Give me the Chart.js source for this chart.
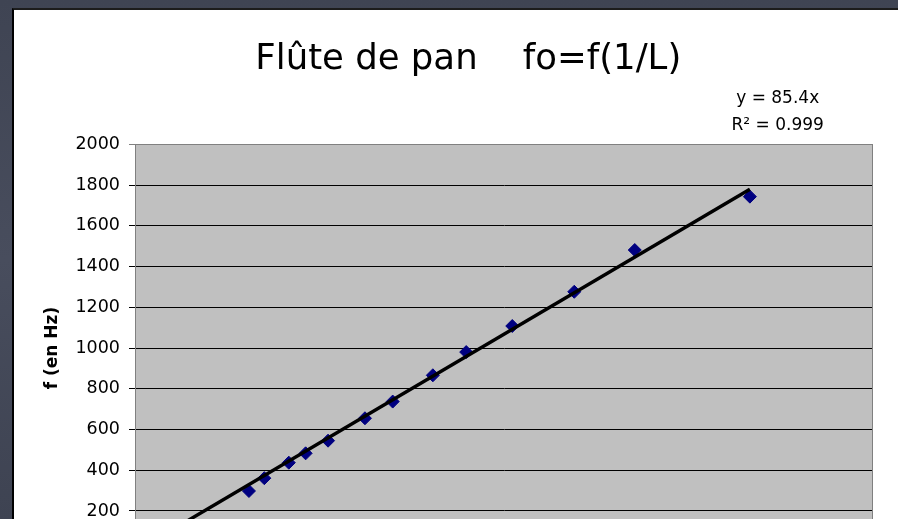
<!DOCTYPE html>
<html><head><meta charset="utf-8">
<script src="https://cdn.jsdelivr.net/npm/chart.js@4.4.1/dist/chart.umd.min.js"></script>
<style>
html,body{margin:0;padding:0;width:898px;height:519px;overflow:hidden;background:#444a59;}
body{background:linear-gradient(180deg,#3f4453 0%,#484d5d 50%,#3e4352 100%);}
#panel{position:absolute;left:12px;top:8px;width:900px;height:640px;background:#fff;border-left:2px solid #000;border-top:2px solid #1c1c1c;}
#wrap{position:absolute;left:0;top:0;width:884px;height:620px;}
</style></head><body>
<div id="panel"><div id="wrap"><canvas id="c"></canvas></div></div>
<script>
// Data
const invL = [3.86, 4.38, 5.21, 5.78, 6.54, 7.79, 8.73, 10.09, 11.22, 12.78, 14.88, 16.93, 20.83];
const freq = [298, 361, 437, 483, 545, 655, 737, 866, 980, 1108, 1276, 1481, 1743];
const trendX = [0, 20.83];
const trendY = [0, 1779];
const yTicks = [0, 200, 400, 600, 800, 1000, 1200, 1400, 1600, 1800, 2000];
const xTicks = [0, 5, 10, 15, 20, 25];
const titleText = 'Flûte de pan    fo=f(1/L)';
const eqLines = ['y = 85.4x', 'R² = 0.999'];
const yTitle = 'f (en Hz)';

const FONT = '"DejaVu Sans"';

const decor = {
  id: 'decor',
  beforeDraw(chart) {
    const {ctx, chartArea: a} = chart;
    ctx.save();
    ctx.fillStyle = '#c0c0c0';
    ctx.fillRect(a.left, a.top, a.right - a.left, a.bottom - a.top);
    ctx.restore();
  },
  beforeDatasetsDraw(chart) {
    const {ctx, chartArea: a} = chart;
    ctx.save();
    ctx.strokeStyle = '#808080';
    ctx.lineWidth = 1;
    ctx.strokeRect(Math.round(a.left) + 0.5, Math.round(a.top) + 0.5, Math.round(a.right - a.left) - 1, Math.round(a.bottom - a.top));
    ctx.restore();
  },
  afterDraw(chart) {
    const {ctx} = chart;
    ctx.save();
    ctx.fillStyle = '#000';
    ctx.textAlign = 'center';
    ctx.textBaseline = 'alphabetic';
    ctx.font = '35.5px ' + FONT;
    ctx.fillText(titleText, 454.3, 59.3);
    ctx.font = '17px ' + FONT;
    ctx.fillText(eqLines[0], 763.7, 92.7);
    ctx.fillText(eqLines[1], 763.7, 120);
    ctx.restore();
  }
};

new Chart(document.getElementById('c'), {
  type: 'scatter',
  data: {
    datasets: [
      {
        label: 'trend',
        data: trendX.map((x, i) => ({x, y: trendY[i]})),
        showLine: true,
        borderColor: '#000',
        borderWidth: 3.5,
        pointRadius: 0,
        fill: false
      },
      {
        label: 'fo',
        data: invL.map((x, i) => ({x, y: freq[i]})),
        pointStyle: 'rectRot',
        pointRadius: 6.5,
        backgroundColor: '#000080',
        borderColor: '#000080',
        borderWidth: 1
      }
    ]
  },
  options: {
    responsive: true,
    maintainAspectRatio: false,
    animation: false,
    events: [],
    layout: {padding: {top: 134.3, right: 25, bottom: 18.3, left: 0}},
    plugins: {legend: {display: false}, tooltip: {enabled: false}, title: {display: false}},
    scales: {
      x: {
        type: 'linear', min: 0, max: 25,
        afterBuildTicks(s) { s.ticks = xTicks.map(v => ({value: v})); },
        ticks: {color: '#000', font: {family: FONT, size: 17.5}, padding: 6, callback: v => String(v)},
        grid: {display: false},
        border: {color: '#808080'},
        afterFit(s) { s.height = 60; }
      },
      y: {
        type: 'linear', min: 0, max: 2000,
        afterBuildTicks(s) { s.ticks = yTicks.map(v => ({value: v})); },
        ticks: {color: '#000', font: {family: FONT, size: 17.5}, padding: 9, callback: v => String(v)},
        grid: {
          color: c => (c.tick && c.tick.value === 2000) ? '#808080' : '#000',
          lineWidth: 1, tickLength: 6
        },
        border: {color: '#808080'},
        title: {display: true, text: yTitle, color: '#000', font: {family: FONT, size: 17, weight: 'bold'}, padding: {top: 28, bottom: 0}},
        afterFit(s) { s.width = 121; }
      }
    }
  },
  plugins: [decor]
});
</script>
</body></html>
